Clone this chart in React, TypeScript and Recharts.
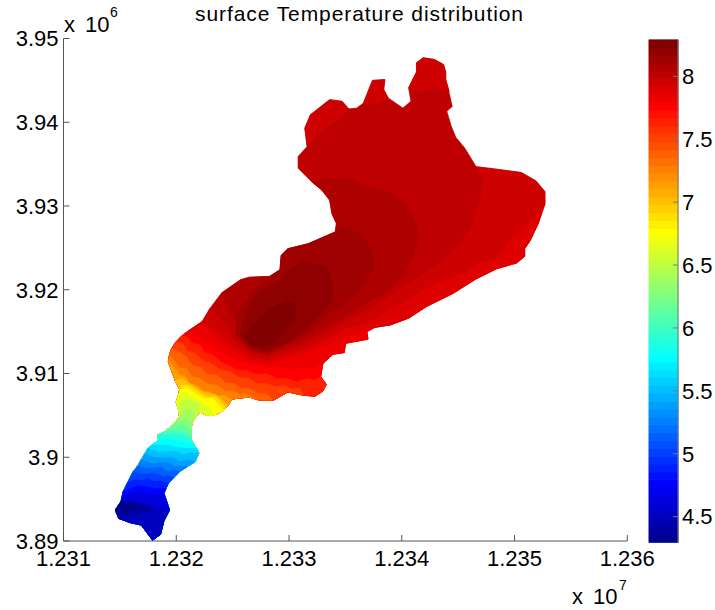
import { Bar, BarChart, Scatter, ScatterChart, XAxis, YAxis } from 'recharts';

type Pt = [number, number];

// all map positions in thousands of metres
const LAKE_OUTLINE: Pt[] = [
  [12344.5, 3941.9], [12344.0, 3941.3], [12344.4, 3939.5], [12344.8, 3938.2], [12345.6, 3936.9], [12346.6, 3934.7],
  [12348.4, 3934.4], [12350.6, 3934.0], [12351.9, 3933.0], [12352.7, 3931.7], [12352.7, 3930.3], [12352.1, 3927.9],
  [12351.4, 3925.9], [12350.9, 3924.9], [12350.9, 3924.0], [12350.2, 3923.2], [12348.4, 3922.5], [12346.6, 3921.3],
  [12344.6, 3919.6], [12342.2, 3918.0], [12340.6, 3916.6], [12339.0, 3915.8], [12337.6, 3915.5], [12336.9, 3915.0],
  [12337.0, 3914.1], [12335.0, 3913.6], [12334.9, 3912.5], [12333.9, 3912.3], [12333.0, 3911.2], [12332.8, 3909.6],
  [12333.3, 3908.7], [12333.0, 3907.9], [12332.3, 3907.3], [12331.3, 3907.4], [12329.9, 3907.8], [12328.6, 3906.8],
  [12327.7, 3906.8], [12327.1, 3906.9], [12326.5, 3907.2], [12325.2, 3907.0], [12324.9, 3906.9], [12324.6, 3906.2],
  [12324.4, 3905.9], [12324.2, 3905.6], [12323.8, 3905.3], [12323.3, 3905.0], [12322.7, 3905.0], [12322.1, 3905.4],
  [12321.7, 3904.8], [12321.4, 3904.1], [12321.3, 3903.2], [12321.3, 3902.8], [12321.3, 3902.3], [12321.5, 3901.6],
  [12321.8, 3901.1], [12322.0, 3900.5], [12321.8, 3899.9], [12321.7, 3899.5], [12321.0, 3898.9], [12320.3, 3898.3],
  [12319.8, 3897.6], [12319.3, 3896.9], [12319.1, 3896.3], [12318.9, 3895.7], [12319.4, 3893.7], [12318.9, 3892.4],
  [12318.6, 3890.8], [12317.9, 3890.1], [12316.9, 3891.9], [12315.9, 3892.2], [12314.9, 3892.7], [12314.6, 3893.7],
  [12315.1, 3894.7], [12315.2, 3895.3], [12315.3, 3895.9], [12315.7, 3897.0], [12316.2, 3898.3], [12316.6, 3899.0],
  [12316.9, 3899.7], [12317.2, 3900.4], [12317.5, 3901.1], [12317.9, 3901.5], [12318.4, 3902.0], [12318.4, 3902.7],
  [12319.0, 3903.1], [12319.6, 3903.7], [12319.9, 3904.2], [12320.3, 3904.8], [12320.2, 3905.7], [12320.0, 3906.6],
  [12320.2, 3907.4], [12320.3, 3908.1], [12319.9, 3909.2], [12319.3, 3911.4], [12319.4, 3912.2], [12319.6, 3913.0],
  [12320.0, 3913.8], [12320.5, 3914.5], [12320.8, 3914.8], [12321.2, 3915.2], [12322.3, 3916.2], [12323.0, 3917.8],
  [12324.0, 3919.6], [12325.7, 3921.2], [12326.5, 3921.5], [12328.3, 3921.6], [12329.2, 3922.4], [12329.3, 3924.1],
  [12329.9, 3924.9], [12331.7, 3925.5], [12334.1, 3926.9], [12334.2, 3927.9], [12333.8, 3929.1], [12333.6, 3930.7],
  [12332.9, 3931.9], [12332.0, 3932.9], [12330.8, 3934.5], [12330.8, 3935.9], [12331.6, 3937.1], [12331.4, 3939.3],
  [12331.9, 3940.9], [12333.6, 3942.7], [12334.7, 3942.5], [12335.3, 3941.6], [12336.0, 3941.7], [12336.6, 3942.3],
  [12337.4, 3945.0], [12338.5, 3945.1], [12338.4, 3943.9], [12338.8, 3942.9], [12340.1, 3941.7], [12340.8, 3942.5],
  [12340.6, 3944.1], [12341.3, 3946.0], [12341.3, 3947.1], [12341.9, 3947.7], [12342.9, 3947.5], [12343.7, 3946.9],
  [12343.9, 3946.0], [12343.9, 3945.1], [12344.2, 3943.7],
];

// warm core, coast to coast
const CORE_60: Pt[] = [
  [12324.0, 3919.6], [12324.6, 3917.6], [12325.7, 3915.2], [12326.7, 3913.5], [12328.0, 3912.2], [12329.6, 3913.2],
  [12331.4, 3914.2], [12333.2, 3915.4], [12334.5, 3916.4], [12336.9, 3918.4], [12339.0, 3920.0], [12340.1, 3921.6],
  [12341.0, 3923.9], [12341.5, 3925.9], [12341.3, 3927.9], [12340.6, 3929.9], [12339.2, 3931.5], [12337.2, 3932.3],
  [12335.4, 3933.3], [12333.6, 3933.3], [12332.0, 3932.9],
];
const CORE_61: Pt[] = [
  [12328.3, 3921.6], [12326.8, 3920.0], [12325.5, 3917.2], [12325.3, 3914.8], [12326.4, 3913.0], [12328.0, 3912.4],
  [12329.6, 3913.5], [12331.4, 3914.7], [12333.6, 3917.2], [12335.4, 3918.8], [12336.6, 3920.4], [12337.6, 3922.8],
  [12337.3, 3924.7], [12336.6, 3926.3], [12335.1, 3927.7], [12334.1, 3926.9],
];
const CORE_62: Pt[] = [
  [12331.3, 3923.4], [12333.3, 3922.8], [12333.9, 3920.8], [12333.8, 3918.8], [12332.7, 3916.8], [12331.3, 3915.1],
  [12329.8, 3913.6], [12328.0, 3912.8], [12326.5, 3913.3], [12325.7, 3914.6], [12326.2, 3917.2], [12327.1, 3919.6],
  [12328.8, 3920.8], [12329.9, 3922.4],
];
const CORE_63: Pt[] = [
  [12330.7, 3918.2], [12330.4, 3916.4], [12329.5, 3914.8], [12328.1, 3913.3], [12326.8, 3913.3], [12326.0, 3914.4],
  [12327.2, 3916.4], [12328.6, 3917.9], [12329.8, 3918.7],
];

const NORTH_LOBE: Pt[] = [[12331.6, 3937.1], [12333.2, 3939.4], [12334.4, 3940.3], [12335.3, 3941.6]];
const NORTH_FINGER: Pt[] = [[12336.6, 3942.3], [12337.6, 3942.1], [12338.5, 3942.7], [12338.8, 3942.9]];
const TOP_LOBE: Pt[] = [[12340.6, 3944.1], [12341.6, 3943.6], [12342.9, 3944.1], [12344.2, 3943.7]];

// isotherms running from the south coast round to the north-west coast
const T58: Pt[] = [
  [12346.6, 3934.7], [12347.2, 3933.3], [12347.1, 3931.1], [12346.6, 3929.5], [12346.1, 3927.5], [12344.9, 3925.1],
  [12343.4, 3923.2], [12341.6, 3921.6], [12339.2, 3919.4], [12337.2, 3917.8], [12335.1, 3916.4], [12333.3, 3914.8],
  [12331.6, 3913.6], [12329.8, 3912.8], [12328.0, 3912.0], [12326.5, 3912.6], [12325.1, 3914.0], [12324.2, 3916.0],
  [12323.4, 3917.2], [12323.0, 3917.8],
];
const T57: Pt[] = [
  [12352.7, 3930.3], [12351.2, 3927.9], [12349.9, 3926.3], [12348.4, 3923.8], [12346.9, 3923.2], [12345.8, 3922.2],
  [12344.0, 3921.2], [12341.9, 3920.0], [12340.1, 3918.4], [12338.4, 3917.2], [12336.9, 3916.0], [12335.1, 3915.4],
  [12333.3, 3914.0], [12331.6, 3913.0], [12329.8, 3912.2], [12328.0, 3911.6], [12326.5, 3912.0], [12325.1, 3913.2],
  [12323.7, 3914.8], [12322.5, 3916.2],
];
const T56: Pt[] = [
  [12337.6, 3915.5], [12335.4, 3914.6], [12333.3, 3913.3], [12331.6, 3912.4], [12329.8, 3911.8], [12328.0, 3911.1],
  [12326.5, 3911.5], [12325.1, 3912.6], [12323.7, 3914.0], [12322.5, 3915.4], [12321.2, 3915.2],
];
const T55: Pt[] = [
  [12333.0, 3911.2], [12332.0, 3910.5], [12331.0, 3910.6], [12330.1, 3910.4], [12329.2, 3910.8], [12328.3, 3910.7],
  [12327.4, 3911.0], [12326.5, 3911.0], [12325.7, 3911.4], [12325.0, 3911.7], [12324.2, 3912.4], [12323.4, 3912.7],
  [12323.0, 3913.4], [12322.3, 3913.7], [12322.0, 3914.6], [12321.2, 3914.5], [12320.8, 3914.8],
];
const T53: Pt[] = [
  [12332.8, 3909.6], [12332.2, 3909.2], [12331.6, 3909.4], [12330.7, 3909.0], [12329.8, 3909.4], [12328.9, 3909.4],
  [12328.0, 3910.0], [12327.1, 3909.9], [12326.2, 3910.4], [12325.4, 3910.4], [12324.6, 3911.0], [12324.0, 3911.3],
  [12323.3, 3912.2], [12322.5, 3912.5], [12322.1, 3913.4], [12321.4, 3913.6], [12321.1, 3914.2], [12320.5, 3914.5],
];
const T51: Pt[] = [
  [12331.3, 3907.4], [12331.0, 3908.2], [12330.3, 3908.1], [12329.6, 3908.6], [12328.8, 3908.4], [12328.0, 3908.8],
  [12327.2, 3908.8], [12326.4, 3909.4], [12325.6, 3909.5], [12324.8, 3910.2], [12324.0, 3910.4], [12323.1, 3911.2],
  [12322.4, 3911.5], [12321.7, 3912.4], [12321.0, 3912.7], [12320.6, 3913.6], [12320.0, 3913.8],
];
const T49: Pt[] = [
  [12328.6, 3906.8], [12328.0, 3907.6], [12327.3, 3907.6], [12326.5, 3908.2], [12325.8, 3908.2], [12325.1, 3908.8],
  [12324.4, 3908.9], [12323.6, 3909.8], [12322.8, 3909.9], [12322.1, 3910.8], [12321.4, 3911.0], [12320.9, 3912.0],
  [12320.2, 3912.6], [12319.6, 3913.0],
];
const T47: Pt[] = [
  [12327.1, 3906.9], [12326.2, 3907.6], [12325.6, 3907.5], [12325.1, 3907.9], [12324.3, 3907.9], [12323.6, 3908.6],
  [12322.9, 3908.7], [12322.1, 3909.4], [12321.4, 3909.6], [12320.9, 3910.6], [12320.3, 3910.7], [12319.9, 3911.4],
  [12319.4, 3912.2],
];
const T45: Pt[] = [
  [12324.9, 3906.9], [12324.2, 3907.4], [12323.6, 3907.3], [12323.0, 3907.8], [12322.4, 3907.9], [12321.8, 3908.6],
  [12321.2, 3908.8], [12320.8, 3909.6], [12320.3, 3909.8], [12319.9, 3910.6], [12319.3, 3911.4],
];
const T43: Pt[] = [
  [12324.6, 3906.2], [12323.6, 3907.4], [12322.4, 3907.8], [12321.4, 3908.6], [12320.5, 3909.4], [12319.9, 3909.2],
];
const T41: Pt[] = [
  [12324.4, 3905.9], [12323.6, 3907.2], [12322.7, 3907.2], [12321.8, 3908.0], [12321.1, 3908.6], [12320.5, 3908.6],
  [12320.3, 3908.1],
];
const T39: Pt[] = [
  [12324.2, 3905.6], [12323.3, 3907.0], [12322.5, 3907.0], [12321.7, 3907.6], [12320.9, 3908.4], [12320.4, 3908.0],
  [12320.2, 3907.4],
];
const T37: Pt[] = [
  [12323.3, 3905.0], [12323.0, 3905.9], [12322.1, 3906.6], [12321.2, 3907.4], [12320.5, 3907.8], [12320.0, 3906.6],
];
const T35: Pt[] = [[12322.1, 3905.4], [12322.0, 3906.4], [12321.1, 3906.9], [12320.3, 3906.5], [12320.2, 3905.7]];
const T33: Pt[] = [[12321.7, 3904.8], [12321.5, 3905.6], [12320.8, 3905.7], [12320.3, 3904.8]];
const T31: Pt[] = [[12321.4, 3904.1], [12320.8, 3904.5], [12319.9, 3904.2]];
const T29: Pt[] = [[12321.3, 3903.2], [12320.5, 3903.9], [12319.6, 3903.7]];
const T27: Pt[] = [[12321.3, 3902.8], [12320.3, 3903.1], [12319.0, 3903.1]];
const T25: Pt[] = [[12321.3, 3902.3], [12320.2, 3902.7], [12318.4, 3902.7]];
const T23: Pt[] = [[12321.5, 3901.6], [12320.2, 3901.9], [12319.2, 3902.1], [12318.4, 3902.0]];
const T21: Pt[] = [[12321.8, 3901.1], [12320.6, 3901.1], [12319.3, 3901.4], [12317.9, 3901.5]];
const T19: Pt[] = [
  [12322.0, 3900.5], [12321.3, 3900.6], [12320.6, 3900.3], [12320.0, 3900.7], [12319.3, 3900.7], [12318.4, 3900.6],
  [12317.5, 3901.1],
];
const T17: Pt[] = [
  [12321.7, 3899.5], [12321.0, 3899.7], [12320.3, 3899.5], [12319.6, 3900.0], [12318.9, 3899.9], [12318.0, 3900.0],
  [12317.2, 3900.4],
];
const T15: Pt[] = [
  [12321.0, 3898.9], [12320.4, 3899.0], [12319.9, 3898.9], [12319.2, 3899.4], [12318.4, 3899.3], [12317.6, 3899.3],
  [12316.9, 3899.7],
];
const T13: Pt[] = [
  [12320.3, 3898.3], [12319.8, 3898.5], [12319.3, 3898.3], [12318.6, 3898.8], [12318.0, 3898.7], [12317.3, 3898.7],
  [12316.6, 3899.0],
];
const T11: Pt[] = [
  [12319.8, 3897.6], [12319.3, 3897.8], [12318.9, 3897.7], [12318.1, 3898.1], [12317.4, 3898.0], [12316.8, 3898.0],
  [12316.2, 3898.3],
];
const T9: Pt[] = [
  [12319.3, 3896.9], [12318.7, 3897.2], [12318.1, 3897.1], [12317.5, 3897.4], [12316.9, 3897.2], [12316.3, 3897.3],
  [12315.7, 3897.0],
];
const T7: Pt[] = [[12319.1, 3896.3], [12318.0, 3896.3], [12316.6, 3896.6], [12315.3, 3895.9]];
const T5: Pt[] = [[12318.9, 3895.7], [12317.7, 3895.5], [12316.5, 3895.9], [12315.2, 3895.3]];
const T3: Pt[] = [[12319.4, 3893.7], [12318.1, 3894.1], [12316.8, 3894.5], [12315.6, 3894.9], [12315.1, 3894.7]];
const T1: Pt[] = [
  [12314.9, 3892.7], [12316.3, 3893.1], [12317.7, 3893.5], [12317.7, 3894.3], [12316.3, 3894.6], [12315.1, 3894.7],
];
const T0: Pt[] = [[12314.6, 3893.7], [12315.7, 3893.4], [12316.6, 3894.0], [12315.9, 3894.5], [12315.1, 3894.7]];

const X_TICKS = [12310, 12320, 12330, 12340, 12350, 12360];
const Y_TICKS = [3890, 3900, 3910, 3920, 3930, 3940, 3950];
const COLORBAR_TICKS = [4.5, 5, 5.5, 6, 6.5, 7, 7.5, 8];
const COLORBAR_DOMAIN: [number, number] = [4.293, 8.293];
const COLORBAR_STEP = 0.0625;

const JET = [
  '#00008f', '#00009f', '#0000af', '#0000bf', '#0000cf', '#0000df', '#0000ef', '#0000ff',
  '#0010ff', '#0020ff', '#0030ff', '#0040ff', '#0050ff', '#0060ff', '#0070ff', '#0080ff',
  '#008fff', '#009fff', '#00afff', '#00bfff', '#00cfff', '#00dfff', '#00efff', '#00ffff',
  '#10ffef', '#20ffdf', '#30ffcf', '#40ffbf', '#50ffaf', '#60ff9f', '#70ff8f', '#80ff80',
  '#8fff70', '#9fff60', '#afff50', '#bfff40', '#cfff30', '#dfff20', '#efff10', '#ffff00',
  '#ffef00', '#ffdf00', '#ffcf00', '#ffbf00', '#ffaf00', '#ff9f00', '#ff8f00', '#ff8000',
  '#ff7000', '#ff6000', '#ff5000', '#ff4000', '#ff3000', '#ff2000', '#ff1000', '#ff0000',
  '#ef0000', '#df0000', '#cf0000', '#bf0000', '#af0000', '#9f0000', '#8f0000', '#800000',
];

const FONT = '"Liberation Sans", Arial, sans-serif';
const AXIS_COLOR = '#555';

const nearestOnCoast = (p: Pt) => {
  let best = 0;
  let bestDist = Infinity;
  LAKE_OUTLINE.forEach((q, i) => {
    const d = (q[0] - p[0]) ** 2 + (q[1] - p[1]) ** 2;
    if (d < bestDist) {
      bestDist = d;
      best = i;
    }
  });
  return best;
};

// closes an isotherm along the coast between its two ends
const coastRegion = (isotherm: Pt[]): Pt[] => {
  const from = nearestOnCoast(isotherm[0]);
  const to = nearestOnCoast(isotherm[isotherm.length - 1]);
  return [...LAKE_OUTLINE.slice(from, to + 1), ...isotherm.slice(1, -1).reverse()];
};

const LAYERS: { level: number; points: Pt[] }[] = [
  { level: 59, points: LAKE_OUTLINE },
  { level: 60, points: coastRegion(CORE_60) },
  { level: 61, points: coastRegion(CORE_61) },
  { level: 62, points: CORE_62 },
  { level: 63, points: CORE_63 },
  { level: 58, points: coastRegion(NORTH_LOBE) },
  { level: 58, points: coastRegion(NORTH_FINGER) },
  { level: 58, points: coastRegion(TOP_LOBE) },
  { level: 58, points: coastRegion(T58) },
  { level: 57, points: coastRegion(T57) },
  { level: 56, points: coastRegion(T56) },
  { level: 55, points: coastRegion(T55) },
  { level: 53, points: coastRegion(T53) },
  { level: 51, points: coastRegion(T51) },
  { level: 49, points: coastRegion(T49) },
  { level: 47, points: coastRegion(T47) },
  { level: 45, points: coastRegion(T45) },
  { level: 43, points: coastRegion(T43) },
  { level: 41, points: coastRegion(T41) },
  { level: 39, points: coastRegion(T39) },
  { level: 37, points: coastRegion(T37) },
  { level: 35, points: coastRegion(T35) },
  { level: 33, points: coastRegion(T33) },
  { level: 31, points: coastRegion(T31) },
  { level: 29, points: coastRegion(T29) },
  { level: 27, points: coastRegion(T27) },
  { level: 25, points: coastRegion(T25) },
  { level: 23, points: coastRegion(T23) },
  { level: 21, points: coastRegion(T21) },
  { level: 19, points: coastRegion(T19) },
  { level: 17, points: coastRegion(T17) },
  { level: 15, points: coastRegion(T15) },
  { level: 13, points: coastRegion(T13) },
  { level: 11, points: coastRegion(T11) },
  { level: 9, points: coastRegion(T9) },
  { level: 7, points: coastRegion(T7) },
  { level: 5, points: coastRegion(T5) },
  { level: 3, points: coastRegion(T3) },
  { level: 1, points: coastRegion(T1) },
  { level: 0, points: coastRegion(T0) },
];

// stacked from zero, everything under the axis minimum gets clipped
const colorbarRow: Record<string, number> = { name: 0 };
JET.forEach((_, i) => {
  colorbarRow[`c${i}`] = i === 0 ? COLORBAR_DOMAIN[0] + COLORBAR_STEP : COLORBAR_STEP;
});

const tickStyle = { fill: '#000', fontSize: 22, fontFamily: FONT };
const noMark = () => <g />;
const layer = { position: 'absolute', left: 0, top: 0 } as const;
const colorbarMargin = { top: 39.5, right: 0, bottom: 67.3, left: 648 };

export default function App() {
  return (
    <div style={{ ...layer, width: 715, height: 610, background: '#fff' }}>
      <div style={layer}>
        <ScatterChart width={715} height={610} margin={{ top: 38.5, right: 87.7, bottom: 39, left: 3.5 }}>
          <XAxis
            type="number"
            dataKey="x"
            domain={[12310, 12360]}
            ticks={X_TICKS}
            height={30}
            tick={tickStyle}
            tickSize={-6}
            tickMargin={15}
            stroke={AXIS_COLOR}
            interval={0}
            tickFormatter={(v: number) => (v / 10000).toFixed(3)}
          />
          <YAxis
            type="number"
            dataKey="y"
            domain={[3890, 3950]}
            ticks={Y_TICKS}
            width={60}
            tick={tickStyle}
            tickSize={-6}
            tickMargin={11}
            stroke={AXIS_COLOR}
            interval={0}
            tickFormatter={(v: number) => `${v / 1000}`}
          />
          {LAYERS.map(({ level, points }, i) => (
            <Scatter
              key={i}
              data={points.map(([x, y]) => ({ x, y }))}
              shape={noMark}
              line={{ fill: JET[level], stroke: JET[level], strokeWidth: 0.6 }}
              isAnimationActive={false}
            />
          ))}
        </ScatterChart>
      </div>
      <div style={layer}>
        <BarChart
          width={715}
          height={610}
          data={[colorbarRow]}
          barCategoryGap={0}
          margin={{ ...colorbarMargin, left: 649, right: 37 }}
        >
          <XAxis dataKey="name" hide />
          <YAxis hide type="number" domain={COLORBAR_DOMAIN} allowDataOverflow />
          {JET.map((color, i) => (
            <Bar key={color} dataKey={`c${i}`} stackId="bar" fill={color} stroke={color} strokeWidth={1} isAnimationActive={false} />
          ))}
        </BarChart>
      </div>
      <div style={layer}>
        <BarChart width={715} height={610} data={[colorbarRow]} margin={colorbarMargin}>
          <XAxis dataKey="name" hide />
          <YAxis
            yAxisId="left"
            orientation="left"
            width={1}
            type="number"
            domain={COLORBAR_DOMAIN}
            ticks={COLORBAR_TICKS}
            tick={false}
            tickSize={-5}
            axisLine={false}
            stroke="#444"
            allowDataOverflow
          />
          <YAxis
            yAxisId="right"
            orientation="right"
            width={37}
            type="number"
            domain={COLORBAR_DOMAIN}
            ticks={COLORBAR_TICKS}
            tick={tickStyle}
            tickSize={-5}
            tickMargin={9}
            stroke="#777"
            interval={0}
            allowDataOverflow
          />
        </BarChart>
      </div>
      <svg width={715} height={610} style={{ ...layer, pointerEvents: 'none' }} fontFamily={FONT}>
        <text x={195} y={21} fontSize={21} textLength={328} lengthAdjust="spacing">surface Temperature distribution</text>
        <text x={64} y={32} fontSize={22}>x</text>
        <text x={85} y={32} fontSize={22}>10</text>
        <text x={110} y={17} fontSize={14}>6</text>
        <text x={572} y={604} fontSize={22}>x</text>
        <text x={593} y={604} fontSize={22}>10</text>
        <text x={619} y={590} fontSize={14}>7</text>
      </svg>
    </div>
  );
}
